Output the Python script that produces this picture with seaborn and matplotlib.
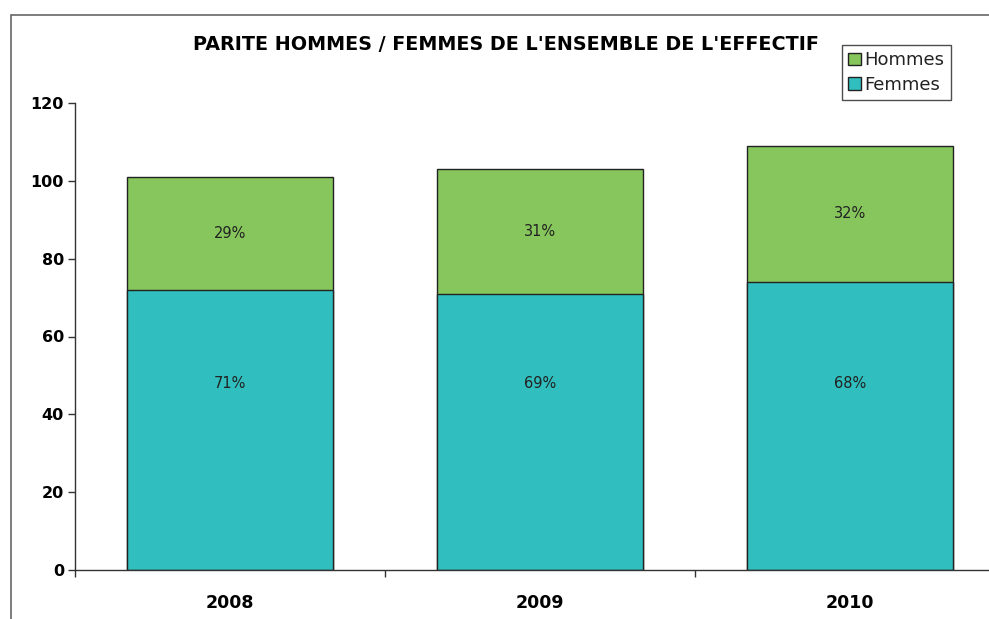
import matplotlib
matplotlib.use("Agg")
import matplotlib.pyplot as plt
from matplotlib.patches import Rectangle, Patch
import seaborn as sns
import pandas as pd

years = ["2008", "2009", "2010"]
femmes = [72, 71, 74]
hommes = [29, 32, 35]
pct_femmes = ["71%", "69%", "68%"]
pct_hommes = ["29%", "31%", "32%"]

c_hommes = "#86C65C"
c_femmes = "#30BEBE"

sns.set_theme(style="white")
plt.rcParams["font.family"] = ["DejaVu Sans"]

df = pd.DataFrame({"annee": years, "Femmes": femmes, "Hommes": hommes})
df["Total"] = df["Femmes"] + df["Hommes"]

fig = plt.figure(figsize=(9.89, 6.19), dpi=100)
ax = fig.add_axes([75 / 989, 1 - 570 / 619, (1005 - 75) / 989, (570 - 103) / 619])

sns.barplot(data=df, x="annee", y="Total", color=c_hommes, width=0.667,
            edgecolor="#222222", linewidth=1.0, saturation=1, ax=ax)
sns.barplot(data=df, x="annee", y="Femmes", color=c_femmes, width=0.667,
            edgecolor="#222222", linewidth=1.0, saturation=1, ax=ax)

for i in range(len(years)):
    ax.text(i, femmes[i] + hommes[i] / 2, pct_hommes[i], ha="center", va="center",
            fontsize=10.5, color="#222222")
    ax.text(i, 48, pct_femmes[i], ha="center", va="center", fontsize=10.5, color="#222222")

ax.set_ylim(0, 120)
ax.set_xlim(-0.5, 2.5)
ax.set_yticks(range(0, 121, 20))
ax.set_xticks([0, 1, 2])
ax.set_xticklabels(years, fontsize=12.5, fontweight="bold", color="black")
for lab in ax.get_yticklabels():
    lab.set_fontweight("bold")
    lab.set_fontsize(11.5)
    lab.set_color("black")
ax.set_xlabel("")
ax.set_ylabel("")
ax.tick_params(axis="x", length=0, pad=17)
ax.tick_params(axis="y", left=True, length=5, width=1, color="#333333", direction="out", pad=3)
for s in ["top", "right"]:
    ax.spines[s].set_visible(False)
for s in ["left", "bottom"]:
    ax.spines[s].set_color("#333333")
    ax.spines[s].set_linewidth(1)
ax.set_xticks([-0.5, 0.5, 1.5, 2.5], minor=True)
ax.tick_params(axis="x", which="minor", bottom=True, length=5, width=1, color="#333333", direction="out")

fig.text(506 / 989, 1 - 45 / 619, "PARITE HOMMES / FEMMES DE L'ENSEMBLE DE L'EFFECTIF",
         ha="center", va="center", fontsize=13.8, fontweight="bold", color="black")

handles = [Patch(facecolor=c_hommes, edgecolor="#222222", label="Hommes"),
           Patch(facecolor=c_femmes, edgecolor="#222222", label="Femmes")]
leg = fig.legend(handles=handles, loc="upper left", bbox_to_anchor=(842 / 989, 1 - 45 / 619),
                 frameon=True, fancybox=False, fontsize=13, handlelength=0.7,
                 handleheight=0.7, handletextpad=0.2, labelspacing=0.35,
                 borderpad=0.35, borderaxespad=0)
leg.get_frame().set_edgecolor("#222222")
leg.get_frame().set_linewidth(1)
for t in leg.get_texts():
    t.set_color("#222222")

fig.patches.append(Rectangle((11 / 989, -0.1), 1.2, 1 - 15 / 619 + 0.1, transform=fig.transFigure,
                             fill=False, edgecolor="#666666", linewidth=1.2, zorder=0))

fig.savefig("out.png", dpi=100)
